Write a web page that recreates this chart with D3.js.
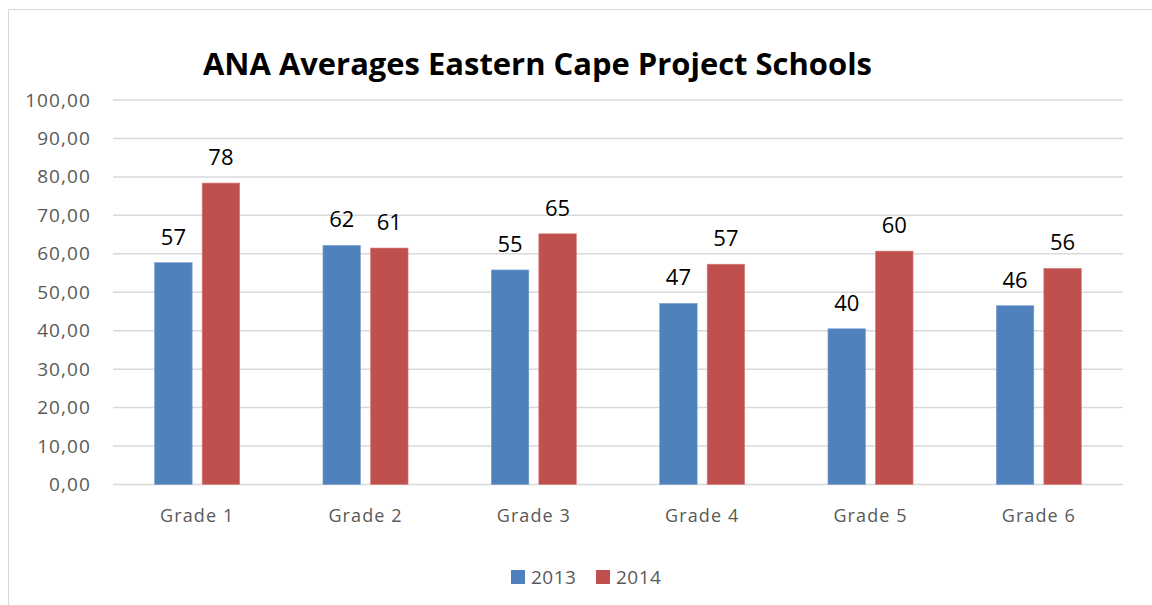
<!DOCTYPE html>
<html>
<head>
<meta charset="utf-8">
<script src="https://cdn.jsdelivr.net/npm/d3@7"></script>
<style>
  body { margin: 0; background: #fff; }
  svg { display: block; font-family: "Open Sans", "Liberation Sans", sans-serif; }
</style>
</head>
<body>
<div id="chart"></div>
<script>
// data
const grades = ["Grade 1", "Grade 2", "Grade 3", "Grade 4", "Grade 5", "Grade 6"];
const years = ["2013", "2014"];
const values2013 = [57.7, 62.2, 55.8, 47.1, 40.5, 46.5];
const values2014 = [78.4, 61.5, 65.2, 57.3, 60.7, 56.2];
const yTicks = [0, 10, 20, 30, 40, 50, 60, 70, 80, 90, 100];
const colors = ["#4F81BD", "#C0504D"];

const width = 1152, height = 605;
const margin = {top: 100, right: 29, bottom: 120.5, left: 113};

const svg = d3.select("#chart").append("svg")
    .attr("width", width)
    .attr("height", height);

// chart frame
svg.append("path")
    .attr("d", `M8.5,${height} V9.5 H${width}`)
    .attr("fill", "none")
    .attr("stroke", "#d9d9d9");

const x = d3.scaleBand()
    .domain(grades)
    .range([margin.left, width - margin.right]);

const y = d3.scaleLinear()
    .domain([0, 100])
    .range([height - margin.bottom, margin.top]);

const barW = x.bandwidth() * 0.223;
const barGap = 10;
const x1 = d3.scaleOrdinal().domain(years).range([-barGap / 2 - barW, barGap / 2]);

// gridlines
svg.append("g")
    .selectAll("line")
    .data(yTicks)
    .join("line")
    .attr("x1", margin.left)
    .attr("x2", width - margin.right)
    .attr("y1", d => y(d))
    .attr("y2", d => y(d))
    .attr("stroke", "#d9d9d9")
    .attr("stroke-width", 1.5);

// y axis labels
const yAxis = svg.append("g")
    .attr("transform", `translate(${margin.left},0)`)
    .call(d3.axisLeft(y).tickValues(yTicks).tickSize(0).tickPadding(22)
        .tickFormat(d => d3.format(".2f")(d).replace(".", ",")));
yAxis.select(".domain").remove();
yAxis.selectAll("text")
    .attr("font-size", 19)
    .attr("letter-spacing", 1.1)
    .attr("fill", "#595959")
    .attr("font-family", "Open Sans, Liberation Sans, sans-serif");

// x axis labels
const xAxis = svg.append("g")
    .attr("transform", `translate(0,${y(0)})`)
    .call(d3.axisBottom(x).tickSize(0).tickPadding(25));
xAxis.select(".domain").remove();
xAxis.selectAll("text")
    .attr("font-size", 18)
    .attr("letter-spacing", 1.1)
    .attr("fill", "#595959")
    .attr("font-family", "Open Sans, Liberation Sans, sans-serif");

const series = [values2013, values2014];

series.forEach((vals, si) => {
    const g = svg.append("g");
    const rows = grades.map((gr, i) => ({grade: gr, value: vals[i]}));

    g.selectAll("rect")
        .data(rows)
        .join("rect")
        .attr("x", d => x(d.grade) + x.bandwidth() / 2 + x1(years[si]))
        .attr("y", d => y(d.value))
        .attr("width", barW)
        .attr("height", d => y(0) - y(d.value))
        .attr("fill", colors[si])
        .attr("stroke", si === 0 ? "#7fa2cf" : "#d6807e")
        .attr("stroke-width", 0.6);

    g.selectAll("text")
        .data(rows)
        .join("text")
        .attr("x", d => x(d.grade) + x.bandwidth() / 2 + x1(years[si]) + barW / 2)
        .attr("y", d => y(d.value) - 18)
        .attr("text-anchor", "middle")
        .attr("font-size", 22)
        .attr("fill", "#000")
        .text(d => Math.floor(d.value));
});

// title
svg.append("text")
    .attr("x", 203)
    .attr("y", 75)
    .attr("font-size", 31)
    .attr("font-weight", "bold")
    .attr("textLength", 669)
    .attr("lengthAdjust", "spacingAndGlyphs")
    .attr("fill", "#000")
    .text("ANA Averages Eastern Cape Project Schools");

// legend
const legend = svg.append("g")
    .selectAll("g")
    .data(years)
    .join("g")
    .attr("transform", (d, i) => `translate(${511 + i * 85},570)`);

legend.append("rect")
    .attr("width", 14)
    .attr("height", 14)
    .attr("fill", (d, i) => colors[i]);

legend.append("text")
    .attr("x", 20)
    .attr("y", 14)
    .attr("font-size", 19)
    .attr("letter-spacing", 0.5)
    .attr("fill", "#595959")
    .text(d => d);
</script>
</body>
</html>
